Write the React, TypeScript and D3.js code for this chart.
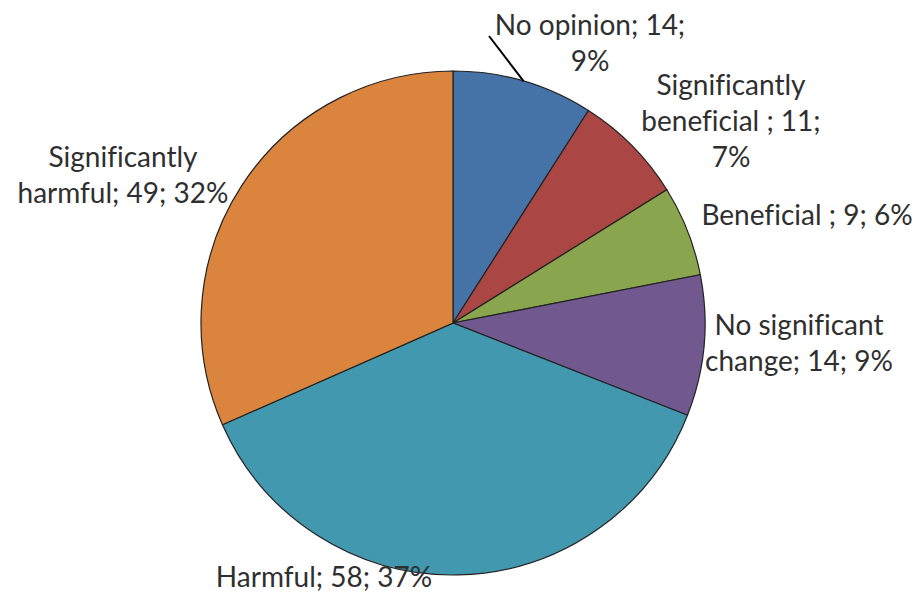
import { useEffect, useRef } from 'react';
import * as d3 from 'd3';

const categories = [
  'No opinion',
  'Significantly beneficial ',
  'Beneficial ',
  'No significant change',
  'Harmful',
  'Significantly harmful',
];
const values = [14, 11, 9, 14, 58, 49];
const percents = ['9%', '7%', '6%', '9%', '37%', '32%'];
const colors = ['#4572A7', '#AA4643', '#89A54E', '#71588F', '#4198AF', '#DB843D'];

// words per label line, as Excel wrapped them
const wrapWords = [[3, 1], [1, 3, 1], [5], [2, 3], [3], [1, 3]];
// centre x and first baseline y of each label
const labelPos = [
  [590, 35],
  [731, 95],
  [807, 225],
  [799, 335],
  [324, 587],
  [123, 167],
];

export default function App() {
  const svgRef = useRef<SVGSVGElement>(null);

  useEffect(() => {
    if (!svgRef.current) return;
    const svg = d3.select(svgRef.current);
    svg.selectAll('*').remove();

    const cx = 453;
    const cy = 323;
    const r = 252;
    const lineH = 36;

    const pie = d3
      .pie<number>()
      .sort(null)
      .value((d) => d);
    const arcs = pie(values);
    const arc = d3.arc<d3.PieArcDatum<number>>().innerRadius(0).outerRadius(r);

    const g = svg.append('g').attr('transform', `translate(${cx},${cy})`);

    g.selectAll('path')
      .data(arcs)
      .join('path')
      .attr('d', arc)
      .attr('fill', (_, i) => colors[i])
      .attr('stroke', '#222')
      .attr('stroke-width', 1.2);

    // leader line for the first slice
    const a0 = (arcs[0].startAngle + arcs[0].endAngle) / 2;
    svg
      .append('line')
      .attr('x1', cx + Math.sin(a0) * r)
      .attr('y1', cy - Math.cos(a0) * r)
      .attr('x2', 489)
      .attr('y2', 36)
      .attr('stroke', '#000')
      .attr('stroke-width', 2);

    const lines = categories.map((c, i) => {
      const words = `${c}; ${values[i]}; ${percents[i]}`.split(' ');
      const out: string[] = [];
      let k = 0;
      wrapWords[i].forEach((n) => {
        out.push(words.slice(k, k + n).join(' '));
        k += n;
      });
      return out;
    });

    const labels = svg
      .append('g')
      .attr('font-family', 'Lato, "Open Sans", sans-serif')
      .attr('font-size', 28)
      .attr('fill', '#2f2f2f')
      .attr('text-anchor', 'middle')
      .style('font-variant-ligatures', 'none');

    labels
      .selectAll('text')
      .data(categories)
      .join('text')
      .attr('x', (_, i) => labelPos[i][0])
      .attr('y', (_, i) => labelPos[i][1])
      .each(function (_, i) {
        d3.select(this)
          .selectAll('tspan')
          .data(lines[i])
          .join('tspan')
          .attr('x', labelPos[i][0])
          .attr('dy', (_, j) => (j === 0 ? 0 : lineH))
          .text((t) => t);
      });
  }, []);

  return (
    <svg
      ref={svgRef}
      width={919}
      height={603}
      viewBox='0 0 919 603'
      style={{ position: 'absolute', left: 0, top: 0, background: '#fff' }}
    />
  );
}
